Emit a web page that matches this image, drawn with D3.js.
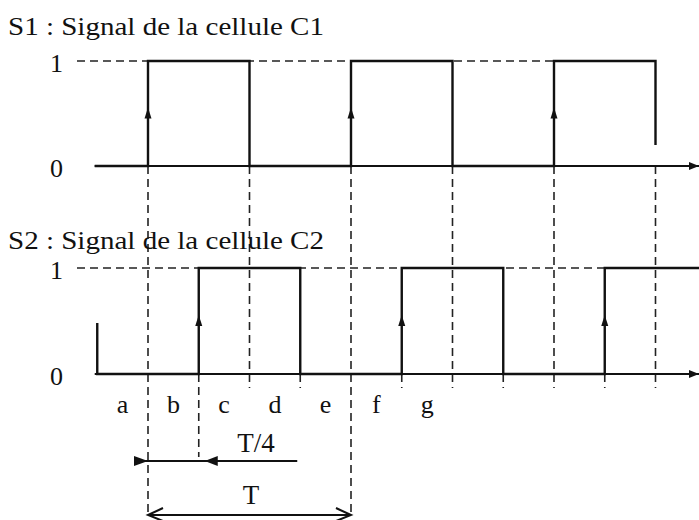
<!DOCTYPE html>
<html><head><meta charset="utf-8">
<script src="https://cdn.jsdelivr.net/npm/d3@7"></script>
<style>
body{margin:0;background:#fff;}
svg{display:block;}
svg text{font-family:"Liberation Serif","DejaVu Serif","Times New Roman",serif;fill:#111;}
.sig{fill:none;stroke:#111;stroke-width:2.4;}
.dash{fill:none;stroke:#222;stroke-width:1.6;stroke-dasharray:8,5;}
.axisline{stroke:#111;stroke-width:2.2;}
</style></head><body><div id="chart"></div>
<script>
/* Time is counted in quarter periods (T/4); t=0 is the first rising edge of S1.
   Each signal is a list of [t, level] step points. */
var s1Title="S1 : Signal de la cellule C1";
var s2Title="S2 : Signal de la cellule C2";
var s1Steps=[[-1.05,0],[0,0],[0,1],[2,1],[2,0],[4,0],[4,1],[6,1],[6,0],[8,0],[8,1],[10,1],[10,0.2]];
var s2Steps=[[-1,0.48],[-1,0],[1,0],[1,1],[3,1],[3,0],[5,0],[5,1],[7,1],[7,0],[9,0],[9,1],[10.9,1]];
var levels=[0,1];
var segLabels=["a","b","c","d","e","f","g"];
var segCentres=[-0.5,0.5,1.5,2.5,3.5,4.5,5.5];
var fullGuides=[0,2,4,6,8,10];   // S1 edges, dashed down through S2
var shortTicks=[1,3,5,7,9];      // S2 edges, ticks under its axis
var quarter={from:0,to:1,label:"T/4"};
var period={from:0,to:4,label:"T"};

var W=699,H=520;
var svg=d3.select("#chart").append("svg").attr("width",W).attr("height",H);
var defs=svg.append("defs");
defs.append("marker").attr("id","axarrow").attr("viewBox","0 0 10 10").attr("refX",10).attr("refY",5)
    .attr("markerWidth",10).attr("markerHeight",10).attr("markerUnits","userSpaceOnUse").attr("orient","auto")
    .append("path").attr("d","M0,1L10,5L0,9Z").attr("fill","#111");

var x=d3.scaleLinear().domain([0,4]).range([148,351]);
var y1=d3.scaleLinear().domain([0,1]).range([166,61]);
var y2=d3.scaleLinear().domain([0,1]).range([374,268]);

var line1=d3.line().x(function(d){return x(d[0]);}).y(function(d){return y1(d[1]);});
var line2=d3.line().x(function(d){return x(d[0]);}).y(function(d){return y2(d[1]);});

// vertical guides
var bottomOf=function(t){
    if(t===period.from||t===period.to) return 515;
    if(t===quarter.to) return 457;
    return 388;
};
fullGuides.forEach(function(t){
    svg.append("line").attr("class","dash").attr("x1",x(t)).attr("x2",x(t))
        .attr("y1",y1(0)).attr("y2",bottomOf(t));
});
shortTicks.forEach(function(t){
    svg.append("line").attr("class","dash").attr("x1",x(t)).attr("x2",x(t))
        .attr("y1",y2(0)).attr("y2",bottomOf(t));
});

function panel(steps,y,line,title,titleY){
    // dashed "1" level up to the last rising edge
    var rises=steps.filter(function(d,i){return i>0&&d[1]===1&&steps[i-1][1]===0&&steps[i-1][0]===d[0];});
    var lastRise=d3.max(rises,function(d){return d[0];});
    svg.append("line").attr("class","dash").attr("x1",77).attr("x2",x(lastRise)).attr("y1",y(1)).attr("y2",y(1));
    // time axis
    svg.append("line").attr("class","axisline").attr("x1",x(-1.05)).attr("x2",W).attr("y1",y(0)).attr("y2",y(0))
        .attr("marker-end","url(#axarrow)");
    // level labels
    var ax=svg.append("g").attr("transform","translate(67,0)")
        .call(d3.axisLeft(y).tickValues(levels).tickSize(0).tickPadding(4).tickFormat(d3.format("d")));
    ax.select(".domain").remove();
    ax.selectAll("text").attr("font-family",null).attr("font-size",26).attr("fill",null).attr("dy","0.4em");
    // signal
    svg.append("path").attr("class","sig").attr("d",line(steps));
    // arrows on rising edges
    var mid=(y(0)+y(1))/2;
    rises.forEach(function(d){
        var cx=x(d[0]);
        svg.append("path").attr("fill","#111")
            .attr("d","M"+cx+","+(mid-6)+"L"+(cx+3.5)+","+(mid+5)+"L"+(cx-3.5)+","+(mid+5)+"Z");
    });
    svg.append("text").attr("x",8).attr("y",titleY).attr("font-size",26)
        .attr("textLength",316).attr("lengthAdjust","spacingAndGlyphs").text(title);
}
panel(s1Steps,y1,line1,s1Title,35);
panel(s2Steps,y2,line2,s2Title,249);

// segment letters
svg.selectAll("text.seg").data(segLabels).enter().append("text").attr("class","seg")
    .attr("x",function(d,i){return x(segCentres[i]);}).attr("y",413)
    .attr("text-anchor","middle").attr("font-size",26).text(function(d){return d;});

// T/4 marker
var qy=461;
svg.append("line").attr("stroke","#111").attr("stroke-width",2)
    .attr("x1",x(quarter.from)-14).attr("x2",x(3)-3).attr("y1",qy).attr("y2",qy);
svg.append("path").attr("fill","#111")
    .attr("d","M"+x(quarter.from)+","+qy+"L"+(x(quarter.from)-14)+","+(qy-5)+"L"+(x(quarter.from)-14)+","+(qy+5)+"Z");
svg.append("path").attr("fill","#111")
    .attr("d","M"+(x(quarter.to)+6)+","+qy+"L"+(x(quarter.to)+19)+","+(qy-5)+"L"+(x(quarter.to)+19)+","+(qy+5)+"Z");
svg.append("text").attr("x",256).attr("y",452).attr("text-anchor","middle").attr("font-size",27).text(quarter.label);

// T marker
var py=515;
svg.append("line").attr("stroke","#111").attr("stroke-width",2)
    .attr("x1",x(period.from)).attr("x2",x(period.to)).attr("y1",py).attr("y2",py);
svg.append("path").attr("fill","none").attr("stroke","#111").attr("stroke-width",2)
    .attr("d","M"+(x(period.from)+15)+","+(py-7)+"L"+x(period.from)+","+py+"L"+(x(period.from)+15)+","+(py+6));
svg.append("path").attr("fill","none").attr("stroke","#111").attr("stroke-width",2)
    .attr("d","M"+(x(period.to)-15)+","+(py-7)+"L"+x(period.to)+","+py+"L"+(x(period.to)-15)+","+(py+6));
svg.append("text").attr("x",251).attr("y",504).attr("text-anchor","middle").attr("font-size",27).text(period.label);
</script></body></html>
